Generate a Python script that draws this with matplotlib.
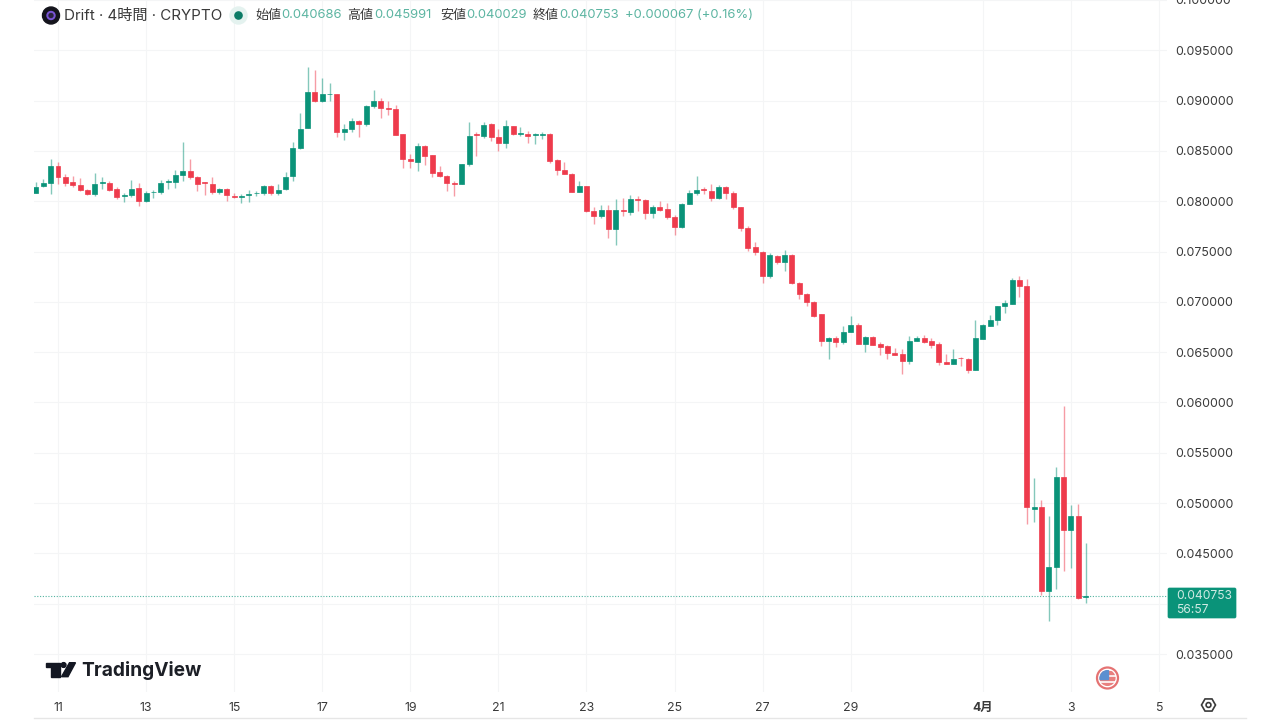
import numpy as np
import matplotlib
matplotlib.use("Agg")
import matplotlib.pyplot as plt
from matplotlib.patches import Circle, Polygon, Rectangle, FancyBboxPatch

opens = [8083,8149,8182,8351,8238,8189,8166,8109,8070,8185,
         8185,8119,8053,8066,8129,8000,8090,8093,8195,8195,
         8258,8301,8242,8189,8172,8093,8123,8056,8040,8060,
         8080,8080,8152,8083,8119,8248,8530,8725,9083,9000,
         9063,9066,8685,8715,8801,8765,8947,9000,8930,8921,
         8669,8421,8394,8550,8457,8288,8252,8185,8172,8368,
         8665,8652,8768,8642,8580,8748,8672,8672,8656,8662,
         8669,8407,8315,8271,8093,8152,7904,7851,7914,7725,
         7914,7897,8020,8013,7884,7944,7924,7848,7742,7970,
         8079,8119,8106,8030,8146,8083,7940,7738,7543,7497,
         7258,7460,7401,7467,7192,7083,6997,6875,6614,6644,
         6597,6700,6772,6584,6650,6581,6558,6495,6482,6416,
         6614,6644,6614,6581,6406,6386,6446,6432,6324,6634,
         6762,6819,6954,6980,7221,7155,4944,4957,4126,4362,
         5263,4731,4870,4068.6]
closes = [8146,8182,8351,8238,8185,8162,8113,8070,8176,8192,
          8113,8047,8066,8126,8000,8086,8096,8185,8202,8258,
          8301,8238,8176,8182,8090,8119,8060,8040,8056,8073,
          8086,8152,8083,8116,8245,8530,8722,9083,9000,9063,
          9070,8685,8719,8801,8765,8950,9000,8930,8917,8662,
          8417,8397,8550,8450,8278,8248,8182,8172,8371,8652,
          8656,8762,8639,8580,8748,8669,8679,8649,8666,8669,
          8397,8311,8268,8093,8152,7901,7851,7914,7722,7914,
          7904,8026,8013,7881,7947,7917,7848,7742,7970,8079,
          8116,8113,8033,8146,8083,7940,7732,7540,7493,7258,
          7464,7397,7464,7192,7080,6997,6864,6614,6644,6597,
          6696,6766,6584,6654,6574,6554,6488,6475,6416,6614,
          6640,6604,6574,6403,6386,6436,6439,6320,6637,6766,
          6822,6954,6984,7221,7155,4960,4957,4123,4362,5263,
          4734,4870,4060,4075.3]
highs = [8189,8222,8421,8394,8271,8248,8232,8123,8285,8238,
         8199,8139,8083,8212,8185,8106,8113,8212,8222,8314,
         8586,8417,8255,8195,8238,8132,8132,8086,8073,8116,
         8106,8159,8166,8172,8288,8586,8877,9331,9308,9225,
         9179,9070,8768,8828,8805,8954,9106,9026,9000,8960,
         8672,8470,8576,8556,8457,8348,8258,8205,8374,8791,
         8685,8785,8775,8719,8808,8752,8735,8695,8682,8685,
         8675,8421,8387,8278,8205,8156,7947,7964,7960,8026,
         8033,8063,8056,8023,7960,8000,7983,7864,7980,8116,
         8255,8146,8175,8166,8152,8099,7943,7758,7599,7503,
         7490,7464,7517,7480,7195,7086,7013,6881,6647,6657,
         6756,6861,6792,6663,6657,6597,6571,6545,6531,6663,
         6657,6667,6637,6597,6485,6531,6449,6439,6822,6776,
         6865,6960,7023,7238,7257,7228,5246,5030,4874,5362,
         5967,4977,4987,4599.1]
lows = [8080,8139,8073,8172,8152,8139,8099,8063,8056,8123,
        8106,8023,7997,8040,7957,7990,8030,8073,8126,8136,
        8199,8219,8103,8060,8073,8073,8003,8036,7983,7997,
        8053,8063,8060,8060,8113,8205,8520,8725,8987,8990,
        9000,8642,8613,8689,8636,8745,8927,8825,8861,8662,
        8331,8328,8298,8361,8245,8245,8103,8050,8169,8348,
        8454,8626,8603,8503,8530,8656,8652,8583,8570,8619,
        8378,8258,8268,8089,8090,7894,7778,7834,7632,7566,
        7858,7868,7907,7828,7834,7907,7821,7669,7738,7970,
        8060,8070,8007,8026,8020,7924,7709,7510,7467,7189,
        7238,7374,7311,7182,7027,6960,6854,6561,6436,6551,
        6584,6700,6578,6502,6571,6469,6436,6469,6287,6380,
        6607,6591,6545,6376,6383,6380,6363,6294,6320,6630,
        6762,6766,6888,6980,7053,4794,4817,4090,3827,4146,
        4326,4356,4047,4002.9]

date_ticks = [3, 15, 27, 39, 51, 63, 75, 87, 99, 111, 129, 141, 153]
date_labels = ["11", "13", "15", "17", "19", "21", "23", "25", "27", "29", "4月", "3", "5"]
price_ticks = [0.035, 0.04, 0.045, 0.05, 0.055, 0.06, 0.065, 0.07, 0.075, 0.08, 0.085, 0.09, 0.095, 0.1]
# 0.040000 sits behind the last price box, so it gets no label
price_labels = ["0.035000", "", "0.045000", "0.050000", "0.055000", "0.060000", "0.065000",
                "0.070000", "0.075000", "0.080000", "0.085000", "0.090000", "0.095000", "0.100000"]

GREEN = "#0a9379"
RED = "#ee3b4c"
GRID = "#f4f5f6"
TEXT = "#3a3a3a"
VALUE = "#5db5a2"
FONT = ["Inter", "Noto Sans CJK JP", "DejaVu Sans"]

plt.rcParams["font.family"] = FONT

o = np.array(opens) * 1e-5
c = np.array(closes) * 1e-5
h = np.array(highs) * 1e-5
l = np.array(lows) * 1e-5
x = np.arange(len(o))
colors = [GREEN if c[i] >= o[i] else RED for i in x]

fig = plt.figure(figsize=(12.8, 7.2), dpi=100)
ax = fig.add_axes([34 / 1280, 28 / 720, 1133 / 1280, 692 / 720])

ax.vlines(x, l, h, colors=colors, linewidth=1.0, alpha=0.5, zorder=3)
ax.bar(x, np.abs(c - o), bottom=np.minimum(o, c), width=0.68, color=colors,
       edgecolor=colors, linewidth=0.5, zorder=4)
ax.axhline(c[-1], color=GREEN, linewidth=0.8, linestyle=(0, (1, 1.5)), alpha=0.7, zorder=2)

ax.set_xlim(-0.27, 154.1)
ax.set_ylim(0.035 - 38 / 10067, 0.095 + 50 / 10067)
ax.set_xticks(date_ticks)
ax.set_xticklabels(date_labels)
ax.get_xticklabels()[10].set_fontweight("bold")
ax.set_yticks(price_ticks)
ax.set_yticklabels(price_labels)
ax.yaxis.tick_right()
ax.tick_params(axis="both", length=0, labelsize=8.9, labelcolor=TEXT)
ax.tick_params(axis="x", pad=7)
ax.tick_params(axis="y", pad=6)
ax.grid(True, color=GRID, linewidth=0.8, zorder=0)
ax.set_axisbelow(True)
for s in ax.spines.values():
    s.set_visible(False)

# everything around the chart, in pixels
ov = fig.add_axes([0, 0, 1, 1], zorder=10)
ov.set_xlim(0, 1280)
ov.set_ylim(720, 0)
ov.axis("off")
ov.patch.set_alpha(0)

ov.plot([34, 1246], [718, 718], color="#e6e6e6", linewidth=1)

# header
ov.add_patch(Circle((51, 15.5), 8.5, color="#14141c"))
ov.add_patch(Circle((51, 15.5), 4, color="#7a55d6"))
ov.add_patch(Circle((51, 15.5), 2, color="#2a2340"))
ov.text(64, 15.5, "Drift · 4時間 · CRYPTO", fontsize=10.9, color=TEXT, va="center")
ov.add_patch(Circle((238.5, 15.5), 8.5, color="#e4f2ef"))
ov.add_patch(Circle((238.5, 15.5), 3.6, color="#0b7b66"))

legend_items = [(255.5, "始値", 281.5, "0.040686"), (347.5, "高値", 374, "0.045991"),
                (440, "安値", 466.5, "0.040029"), (532.5, "終値", 559, "0.040753")]
for lx, name, vx, val in legend_items:
    ov.text(lx, 15.5, name, fontsize=9.35, color=TEXT, va="center")
    ov.text(vx, 15.5, val, fontsize=9.35, color=VALUE, va="center")
ov.text(625, 15.5, "+0.000067 (+0.16%)", fontsize=9.35, color=VALUE, va="center")

# last price box
ov.add_patch(FancyBboxPatch((1168, 588), 68, 30, boxstyle="round,pad=0,rounding_size=1.5",
                            facecolor=GREEN, edgecolor=GREEN, linewidth=0.5))
ov.text(1176, 596, "%.6f" % (c[-1]), fontsize=8.7, color="#cfeae3", va="center")
ov.text(1176, 610, "56:57", fontsize=8.7, color="#cfeae3", va="center")

# TradingView mark
ov.add_patch(Polygon([(45.7, 662.7), (60, 662.7), (60, 676.7), (50.7, 676.7), (50.7, 667), (45.7, 667)],
                     closed=True, color="#131722"))
ov.add_patch(Circle((63.6, 665), 2.4, color="#131722"))
ov.add_patch(Polygon([(69.5, 662.7), (75.5, 662.7), (68, 676.7), (61.5, 676.7)], closed=True, color="#131722"))
ov.text(81.5, 670.5, "TradingView", fontsize=13.8, fontweight="bold", color="#1c1f26", va="center")

# flag badge
ov.add_patch(Circle((1107.5, 678), 10.5, facecolor="white", edgecolor="#e57373", linewidth=1.6))
disc = Circle((1107.5, 678), 8, facecolor="white", edgecolor="none")
ov.add_patch(disc)
for sy, sc in [(671, "#e8807f"), (677, "#e8807f"), (683, "#e8807f")]:
    r = Rectangle((1099, sy), 17, 3, color=sc)
    ov.add_patch(r)
    r.set_clip_path(disc)
canton = Rectangle((1099, 670), 8.5, 8.5, color="#5b8fd0")
ov.add_patch(canton)
canton.set_clip_path(disc)

# settings gear
ang = np.deg2rad(np.arange(0, 360, 60))
ov.add_patch(Polygon(np.c_[1208.5 + 7 * np.cos(ang), 705 + 7 * np.sin(ang)], closed=True,
                     fill=False, edgecolor="#3a3a3a", linewidth=1.2))
ov.add_patch(Circle((1208.5, 705), 2.4, fill=False, edgecolor="#3a3a3a", linewidth=1.2))

fig.savefig("out.png", dpi=100)
